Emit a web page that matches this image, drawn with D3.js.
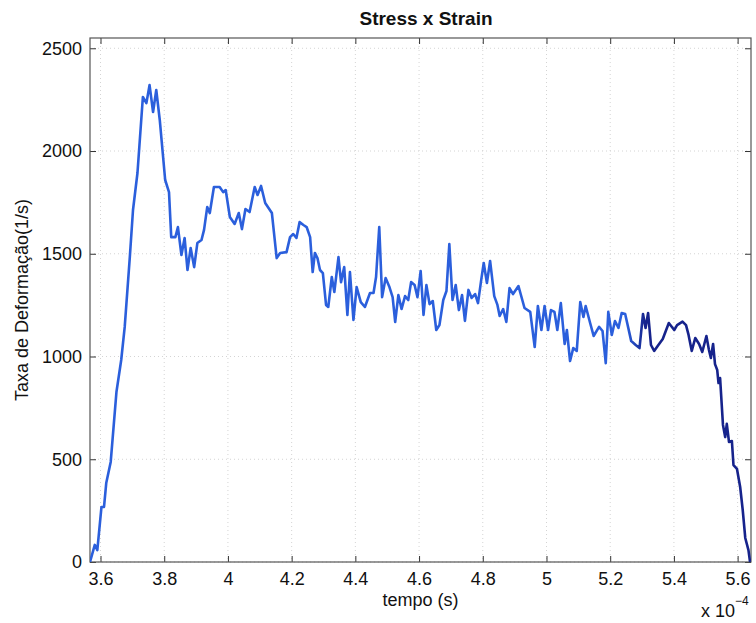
<!DOCTYPE html>
<html>
<head>
<meta charset="utf-8">
<script src="https://cdn.jsdelivr.net/npm/d3@7"></script>
<style>
  body { margin: 0; background: #fff; }
  svg { display: block; font-family: "Liberation Sans", Arial, Helvetica, sans-serif; }
</style>
</head>
<body>
<svg id="chart" width="756" height="623"></svg>
<script>
// Time samples, in units of 1e-4 s (the axis carries the "x 10^-4" multiplier)
const tempo = [
  3.567, 3.582, 3.590, 3.603, 3.611, 3.618, 3.632, 3.650, 3.665, 3.676,
  3.692, 3.702, 3.716, 3.733, 3.744, 3.754, 3.765, 3.775, 3.786, 3.803,
  3.815, 3.822, 3.835, 3.843, 3.854, 3.864, 3.873, 3.883, 3.894, 3.904,
  3.917, 3.925, 3.935, 3.943, 3.956, 3.974, 3.985, 3.993, 4.006, 4.021,
  4.034, 4.044, 4.055, 4.068, 4.084, 4.093, 4.104, 4.117, 4.138, 4.153,
  4.164, 4.184, 4.195, 4.205, 4.215, 4.225, 4.237, 4.247, 4.258, 4.266,
  4.273, 4.281, 4.289, 4.298, 4.308, 4.315, 4.326, 4.334, 4.347, 4.355,
  4.365, 4.375, 4.383, 4.394, 4.404, 4.417, 4.430, 4.446, 4.457, 4.465,
  4.475, 4.484, 4.495, 4.507, 4.517, 4.525, 4.535, 4.545, 4.556, 4.566,
  4.575, 4.586, 4.595, 4.605, 4.614, 4.623, 4.633, 4.643, 4.654, 4.664,
  4.676, 4.686, 4.695, 4.705, 4.715, 4.725, 4.735, 4.744, 4.755, 4.765,
  4.776, 4.785, 4.795, 4.803, 4.813, 4.823, 4.836, 4.846, 4.853, 4.864,
  4.874, 4.884, 4.895, 4.912, 4.931, 4.949, 4.963, 4.973, 4.984, 4.994,
  5.005, 5.014, 5.025, 5.034, 5.045, 5.057, 5.064, 5.074, 5.084, 5.095,
  5.106, 5.116, 5.123, 5.137, 5.148, 5.165, 5.176, 5.186, 5.194, 5.205,
  5.215, 5.226, 5.236, 5.247, 5.266, 5.280, 5.292, 5.303, 5.311, 5.319,
  5.328, 5.338, 5.349, 5.365, 5.384, 5.401, 5.410, 5.427, 5.438, 5.446,
  5.456, 5.467, 5.479, 5.489, 5.502, 5.510, 5.516, 5.523, 5.529, 5.536,
  5.540, 5.545, 5.554, 5.561, 5.566, 5.573, 5.582, 5.587, 5.598, 5.608,
  5.616, 5.624, 5.634, 5.639
];

// Strain rate, 1/s
const taxa = [
     0,   83,   58,  268,  268,  384,  487,  827,  983, 1144,
  1484, 1713, 1893, 2263, 2233, 2321, 2190, 2297, 2151, 1859,
  1800, 1581, 1581, 1630, 1494, 1577, 1421, 1528, 1435, 1552,
  1567, 1616, 1727, 1698, 1825, 1825, 1800, 1810, 1679, 1645,
  1698, 1620, 1718, 1703, 1825, 1786, 1830, 1747, 1698, 1479,
  1504, 1508, 1581, 1596, 1577, 1654, 1640, 1630, 1581, 1411,
  1504, 1479, 1421, 1406, 1251, 1241, 1387, 1314, 1484, 1362,
  1435, 1202, 1411, 1178, 1338, 1265, 1241, 1309, 1309, 1387,
  1630, 1289, 1382, 1338, 1289, 1168, 1299, 1231, 1294, 1275,
  1362, 1348, 1289, 1416, 1202, 1348, 1255, 1270, 1129, 1153,
  1275, 1319, 1547, 1275, 1348, 1226, 1299, 1173, 1324, 1285,
  1304, 1260, 1372, 1455, 1358, 1465, 1294, 1251, 1197, 1231,
  1168, 1333, 1304, 1343, 1236, 1217, 1046, 1246, 1129, 1246,
  1129, 1226, 1217, 1129, 1260, 1061, 1129,  978, 1041, 1027,
  1265, 1192, 1246, 1163, 1100, 1144, 1124,  968, 1217, 1105,
  1173, 1139, 1212, 1207, 1075, 1056, 1041, 1207, 1139, 1212,
  1056, 1027, 1051, 1085, 1163, 1129, 1153, 1170, 1153, 1105,
  1027, 1090, 1061, 1022, 1100, 1032,  993, 1061,  963,  934,
   871,  895,  667,  608,  672,  584,  589,  472,  453,  365,
   253,  117,   58,    0
];

const xTicks = [3.6, 3.8, 4, 4.2, 4.4, 4.6, 4.8, 5, 5.2, 5.4, 5.6];
const yTicks = [0, 500, 1000, 1500, 2000, 2500];
const xLabels = ["3.6", "3.8", "4", "4.2", "4.4", "4.6", "4.8", "5", "5.2", "5.4", "5.6"];
const yLabels = ["0", "500", "1000", "1500", "2000", "2500"];

const width = 756, height = 623;
const margin = { top: 38, right: 5, bottom: 61, left: 90 };
const innerW = width - margin.left - margin.right;
const innerH = height - margin.top - margin.bottom;

const svg = d3.select("#chart");
const g = svg.append("g").attr("transform", `translate(${margin.left},${margin.top})`);

const x = d3.scaleLinear().domain([3.567, 5.642]).range([0, innerW]);
const y = d3.scaleLinear().domain([0, 2550]).range([innerH, 0]);

// dotted grid
const grid = g.append("g").attr("class", "grid");
grid.selectAll("line.gx").data(xTicks).join("line")
  .attr("x1", d => x(d)).attr("x2", d => x(d))
  .attr("y1", 0).attr("y2", innerH);
grid.selectAll("line.gy").data(yTicks).join("line")
  .attr("y1", d => y(d)).attr("y2", d => y(d))
  .attr("x1", 0).attr("x2", innerW);
grid.selectAll("line")
  .attr("stroke", "#d4d4d4").attr("stroke-width", 1)
  .attr("stroke-dasharray", "1,3");

// axes with inward ticks on all four sides
const fmtX = (d, i) => xLabels[i];
const fmtY = (d, i) => yLabels[i];

const axB = g.append("g").attr("transform", `translate(0,${innerH})`)
  .call(d3.axisBottom(x).tickValues(xTicks).tickFormat(fmtX)
    .tickSizeInner(-6).tickSizeOuter(0).tickPadding(10));
const axT = g.append("g")
  .call(d3.axisTop(x).tickValues(xTicks).tickFormat("")
    .tickSizeInner(-6).tickSizeOuter(0));
const axL = g.append("g")
  .call(d3.axisLeft(y).tickValues(yTicks).tickFormat(fmtY)
    .tickSizeInner(-6).tickSizeOuter(0).tickPadding(8));
const axR = g.append("g").attr("transform", `translate(${innerW},0)`)
  .call(d3.axisRight(y).tickValues(yTicks).tickFormat("")
    .tickSizeInner(-6).tickSizeOuter(0));

[axB, axT, axL, axR].forEach(a => {
  a.select(".domain").remove();
  a.selectAll(".tick line").attr("stroke", "#333");
  a.selectAll("text").attr("fill", "#111")
    .style("font-size", "18px")
    .style("font-family", "'Liberation Sans', Arial, Helvetica, sans-serif");
});

// frame
g.append("rect").attr("x", 0).attr("y", 0).attr("width", innerW).attr("height", innerH)
  .attr("fill", "none").attr("stroke", "#555").attr("stroke-width", 1.2);

// line colour deepens toward the end of the record
const defs = svg.append("defs");
const grad = defs.append("linearGradient").attr("id", "lineGrad")
  .attr("gradientUnits", "userSpaceOnUse")
  .attr("x1", x(5.25)).attr("x2", x(5.31))
  .attr("y1", 0).attr("y2", 0);
grad.append("stop").attr("offset", "0%").attr("stop-color", "#2b5fdc");
grad.append("stop").attr("offset", "100%").attr("stop-color", "#16238c");

const pts = tempo.map((t, i) => [t, taxa[i]]);
const line = d3.line().x(d => x(d[0])).y(d => y(d[1]));

const clip = defs.append("clipPath").attr("id", "plotClip");
clip.append("rect").attr("x", 0).attr("y", 0).attr("width", innerW).attr("height", innerH);

g.append("path").datum(pts)
  .attr("clip-path", "url(#plotClip)")
  .attr("d", line)
  .attr("fill", "none")
  .attr("stroke", "url(#lineGrad)")
  .attr("stroke-width", 2.6)
  .attr("stroke-linejoin", "round");

// titles
svg.append("text").attr("x", 426).attr("y", 25)
  .attr("text-anchor", "middle").attr("font-weight", "bold")
  .style("font-size", "19px").attr("fill", "#111")
  .text("Stress x Strain");

svg.append("text").attr("x", margin.left + innerW / 2).attr("y", 606)
  .attr("text-anchor", "middle").style("font-size", "18px").attr("fill", "#111")
  .text("tempo (s)");

svg.append("text")
  .attr("transform", `translate(28,${margin.top + innerH / 2}) rotate(-90)`)
  .attr("text-anchor", "middle").style("font-size", "18px").attr("fill", "#111")
  .text("Taxa de Deformação(1/s)");

const mult = svg.append("text").attr("x", 701).attr("y", 617)
  .style("font-size", "18px").attr("fill", "#111");
mult.append("tspan").text("x 10");
mult.append("tspan").attr("dy", -12).style("font-size", "12px").text("−4");
</script>
</body>
</html>
